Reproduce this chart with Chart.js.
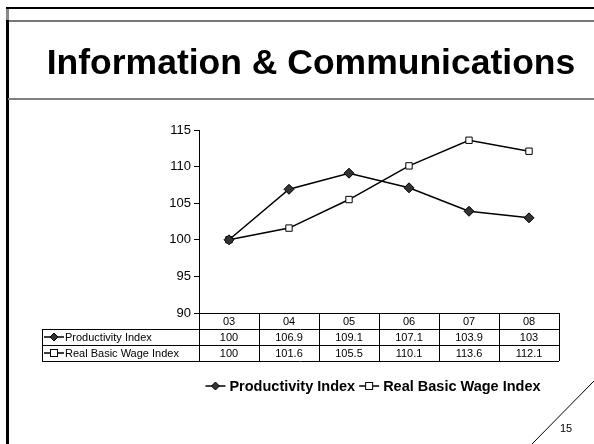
<!DOCTYPE html>
<html>
<head>
<meta charset="utf-8">
<script src="https://cdn.jsdelivr.net/npm/chart.js@4/dist/chart.umd.min.js"></script>
<style>
  html,body{margin:0;padding:0;background:#fff;}
  #wrap{position:relative;width:594px;height:444px;overflow:hidden;font-family:"Liberation Sans",Arial,sans-serif;}
  #c{position:absolute;left:0;top:0;}
  .ln{position:absolute;}
  #title{position:absolute;left:18px;width:586px;top:42px;text-align:center;font-weight:bold;font-size:35.5px;color:#000;line-height:40px;white-space:nowrap;}
  #pg{position:absolute;left:560px;top:422px;font-size:11px;color:#000;}
</style>
</head>
<body>
<div id="wrap">
  <canvas id="c" width="594" height="444"></canvas>
  <div class="ln" style="left:6px;top:7px;width:588px;height:2px;background:#000;"></div>
  <div class="ln" style="left:8px;top:20px;width:586px;height:2px;background:#777;"></div>
  <div class="ln" style="left:6px;top:9px;width:3px;height:12px;background:#888;"></div>
  <div class="ln" style="left:6px;top:20px;width:3px;height:424px;background:#000;"></div>
  <div class="ln" style="left:8px;top:98px;width:586px;height:2px;background:#808080;"></div>
  <div id="title">Information &amp; Communications</div>
  <svg class="ln" style="left:0;top:0" width="594" height="444"><line x1="532" y1="444" x2="594" y2="381" stroke="#000" stroke-width="1"/></svg>
  <div id="pg">15</div>
</div>
<script>
const categories = ["03","04","05","06","07","08"];
const productivity = [100,106.9,109.1,107.1,103.9,103];
const wage = [100,101.6,105.5,110.1,113.6,112.1];
const seriesNames = ["Productivity Index","Real Basic Wage Index"];
const tableValues = [
  ["100","106.9","109.1","107.1","103.9","103"],
  ["100","101.6","105.5","110.1","113.6","112.1"]
];

const FONT = '"Liberation Sans", Arial, sans-serif';

function drawKey(ctx, ds, x, y, len) {
  ctx.save();
  ctx.strokeStyle = '#000';
  ctx.lineWidth = 1.5;
  ctx.beginPath(); ctx.moveTo(x, y); ctx.lineTo(x + len, y); ctx.stroke();
  const cx = x + len / 2;
  ctx.lineWidth = 1;
  if (ds.pointStyle === 'rectRot') {
    ctx.fillStyle = '#333';
    ctx.beginPath();
    ctx.moveTo(cx, y - 4); ctx.lineTo(cx + 4, y); ctx.lineTo(cx, y + 4); ctx.lineTo(cx - 4, y); ctx.closePath();
    ctx.fill(); ctx.stroke();
  } else {
    ctx.fillStyle = '#fff';
    ctx.fillRect(cx - 3.5, y - 3.5, 7, 7);
    ctx.strokeRect(cx - 3.5, y - 3.5, 7, 7);
  }
  ctx.restore();
}

const tablePlugin = {
  id: 'dataTable',
  afterDraw(chart) {
    const ctx = chart.ctx;
    const xs = chart.scales.x;
    const area = chart.chartArea;
    const top = Math.round(area.bottom);
    const rowH = 16;
    const labelLeft = 42;
    const half = (xs.getPixelForValue(1) - xs.getPixelForValue(0)) / 2;
    ctx.save();
    ctx.strokeStyle = '#000';
    ctx.lineWidth = 1;
    ctx.fillStyle = '#000';
    ctx.textAlign = 'center';
    ctx.textBaseline = 'middle';
    ctx.font = '11px ' + FONT;
    const left = area.left, right = area.right;
    ctx.beginPath();
    ctx.moveTo(left, top + 0.5); ctx.lineTo(right, top + 0.5);
    ctx.moveTo(labelLeft, top + rowH + 0.5); ctx.lineTo(right, top + rowH + 0.5);
    ctx.moveTo(labelLeft, top + 2*rowH + 0.5); ctx.lineTo(right, top + 2*rowH + 0.5);
    ctx.moveTo(labelLeft, top + 3*rowH + 0.5); ctx.lineTo(right, top + 3*rowH + 0.5);
    ctx.moveTo(labelLeft + 0.5, top + rowH); ctx.lineTo(labelLeft + 0.5, top + 3*rowH);
    for (let i = 0; i <= categories.length; i++) {
      const xx = Math.round(xs.getPixelForValue(i) - half) + 0.5;
      ctx.moveTo(xx, top); ctx.lineTo(xx, top + 3*rowH);
    }
    ctx.stroke();
    categories.forEach((c, i) => {
      ctx.fillText(c, xs.getPixelForValue(i), top + rowH/2 + 1);
    });
    tableValues.forEach((row, r) => {
      row.forEach((v, i) => {
        ctx.fillText(v, xs.getPixelForValue(i), top + rowH*(r+1) + rowH/2 + 1);
      });
      const ds = chart.data.datasets[r];
      const ky = top + rowH*(r+1) + rowH/2;
      drawKey(ctx, ds, labelLeft + 2, ky, 20);
      ctx.textAlign = 'left';
      ctx.fillText(ds.label, labelLeft + 23, ky + 1);
      ctx.textAlign = 'center';
    });
    // legend
    ctx.font = 'bold 14.5px ' + FONT;
    const ly = 386;
    const keyLen = 20, gap = 4, sep = 4;
    const widths = chart.data.datasets.map(d => keyLen + gap + ctx.measureText(d.label).width);
    const total = widths.reduce((a,b)=>a+b,0) + sep;
    let x = 373 - total / 2;
    ctx.textAlign = 'left';
    chart.data.datasets.forEach((d, i) => {
      drawKey(ctx, d, x, ly, keyLen);
      ctx.fillText(d.label, x + keyLen + gap, ly + 1);
      x += widths[i] + sep;
    });
    ctx.restore();
  }
};

new Chart(document.getElementById('c'), {
  type: 'line',
  data: {
    labels: categories,
    datasets: [
      {
        label: seriesNames[0], data: productivity,
        borderColor: '#000', borderWidth: 1.5,
        pointStyle: 'rectRot', pointRadius: 5, pointBackgroundColor: '#333',
        pointBorderColor: '#000', pointBorderWidth: 1, tension: 0
      },
      {
        label: seriesNames[1], data: wage,
        borderColor: '#000', borderWidth: 1.5,
        pointStyle: 'rect', pointRadius: 4.5, pointBackgroundColor: '#fff',
        pointBorderColor: '#000', pointBorderWidth: 1, tension: 0
      }
    ]
  },
  options: {
    responsive: false,
    animation: false,
    devicePixelRatio: 1,
    layout: { padding: { left: 0, top: 130, right: 35, bottom: 123 } },
    plugins: { legend: { display: false }, tooltip: { enabled: false } },
    scales: {
      x: {
        offset: true,
        display: true,
        ticks: { display: false },
        grid: { display: false },
        border: { display: false }
      },
      y: {
        min: 90, max: 115,
        afterFit(scale) { scale.width = 199; },
        ticks: { stepSize: 5, color: '#000', font: { size: 13, family: FONT }, padding: 3 },
        grid: { drawOnChartArea: false, drawTicks: true, tickLength: 5, color: '#000' },
        border: { display: true, color: '#000', width: 1 }
      }
    }
  },
  plugins: [tablePlugin]
});
</script>
</body>
</html>
